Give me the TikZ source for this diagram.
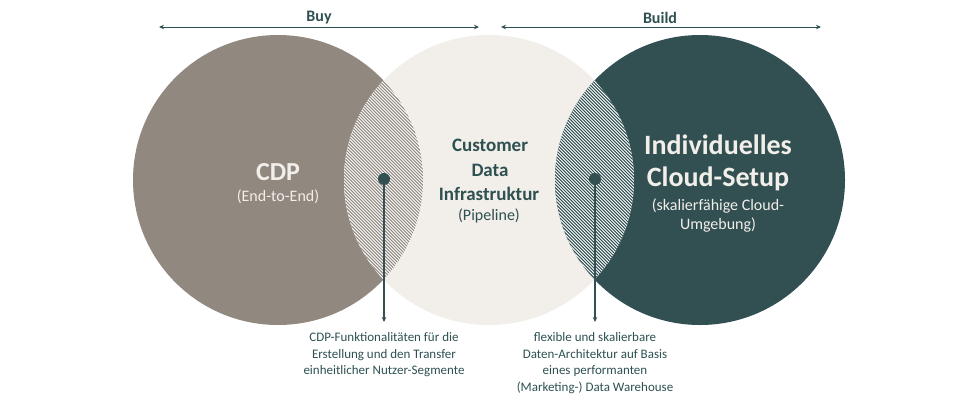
\documentclass[tikz,border=0pt]{standalone}
\usepackage{fontspec}
\setmainfont{Carlito}
\usetikzlibrary{arrows.meta}
\definecolor{cdpgrey}{HTML}{918880}
\definecolor{cream}{HTML}{F2EFEA}
\definecolor{teal}{HTML}{325052}
\definecolor{txt}{HTML}{2E5051}
\tikzset{
  venn/.style={circle, minimum size=290pt, inner sep=0pt, outer sep=0pt},
  dotnode/.style={circle, fill=teal, minimum size=12pt, inner sep=0pt},
  hdr/.style={font=\fontsize{16}{19}\selectfont\bfseries, text=txt},
  span/.style={draw=txt, line width=1pt, {Stealth[length=5pt,width=4.5pt]}-{Stealth[length=5pt,width=4.5pt]}},
  pointer/.style={draw=teal, line width=1.2pt, -{Stealth[length=5pt,width=4.5pt]}},
  note/.style={font=\fontsize{13}{16.8}\selectfont, text=txt, align=center, inner sep=0pt},
  ttl/.style={inner sep=0pt, font=\fontsize{26}{30}\selectfont\bfseries},
  mttl/.style={inner sep=0pt, font=\fontsize{19}{24}\selectfont\bfseries, text=txt},
  rttl/.style={inner sep=0pt, font=\fontsize{28}{33}\selectfont\bfseries, text=cream},
  sub/.style={inner sep=0pt, font=\fontsize{16}{19}\selectfont},
}
\begin{document}
\begin{tikzpicture}[x=1pt,y=-1pt]
\useasboundingbox (0,0) rectangle (980,400);
% circles
\node[venn, fill=cdpgrey] (cdp) at (278,180) {};
\node[venn, fill=cream] (cdi) at (489,180) {};
\node[venn, fill=teal] (cloud) at (700,180) {};
% left lens hatch
\begin{scope}
  \clip (278,180) circle[radius=145pt];
  \clip (489,180) circle[radius=145pt];
  \fill[white] (300,0) rectangle (480,400);
  \foreach \i in {0,3.2,...,500} {
    \draw[cdpgrey, line width=1pt] (100+\i,0) -- (100+\i+400,400);
  }
\end{scope}
% right lens hatch
\begin{scope}
  \clip (489,180) circle[radius=145pt];
  \clip (700,180) circle[radius=145pt];
  \fill[white] (520,0) rectangle (680,400);
  \foreach \i in {0,3.2,...,500} {
    \draw[teal, line width=1pt] (310+\i,0) -- (310+\i+400,400);
  }
\end{scope}
% circle texts
\node[ttl, text=cream] (cdpA) at (278,172) {CDP};
\node[sub, text=cream] (cdpB) at (278,197) {(End-to-End)};
\node[mttl] (cdiA) at (490,145) {Customer};
\node[mttl] (cdiB) at (490,170) {Data};
\node[mttl] (cdiC) at (489,194) {Infrastruktur};
\node[sub, text=txt] (cdiD) at (489,216) {(Pipeline)};
\node[rttl] (clA) at (718,145) {Individuelles};
\node[rttl] (clB) at (718,179) {Cloud-Setup};
\node[sub, text=cream] (clC) at (718,206) {(skalierfähige Cloud-};
\node[sub, text=cream] (clD) at (718,225) {Umgebung)};
% header arrows
\coordinate (buyL) at (159,27);
\coordinate (buyR) at (479,27);
\coordinate (buildL) at (501,27);
\coordinate (buildR) at (821,27);
\draw[span] (buyL) -- (buyR);
\draw[span] (buildL) -- (buildR);
\node[hdr] (buy) at (319,18) {Buy};
\node[hdr] (build) at (660,18) {Build};
% dots and pointers
\node[dotnode] (dotL) at (384,179) {};
\node[dotnode] (dotR) at (595,179) {};
\node[note, anchor=north] (noteL) at (384,332)
  {CDP-Funktionalitäten für die\\ Erstellung und den Transfer\\ einheitlicher Nutzer-Segmente};
\node[note, anchor=north] (noteR) at (595,332)
  {flexible und skalierbare\\ Daten-Architektur auf Basis\\ eines performanten\\ (Marketing-) Data Warehouse};
\coordinate (endL) at (384,322);
\coordinate (endR) at (595,322);
\draw[pointer] (dotL.center) -- (endL);
\draw[pointer] (dotR.center) -- (endR);
\end{tikzpicture}
\end{document}
